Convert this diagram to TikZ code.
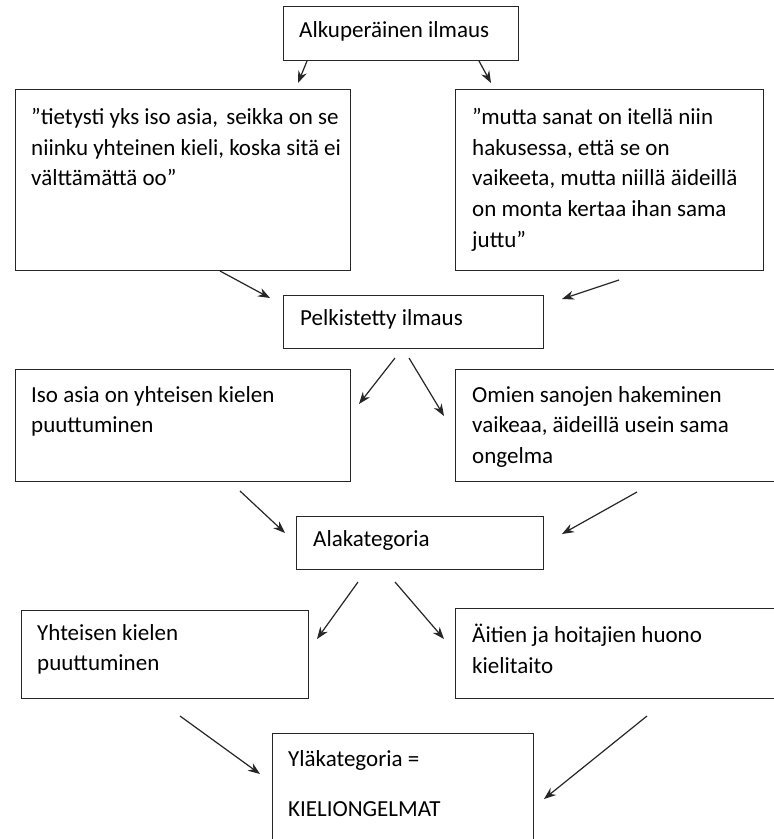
\documentclass[tikz,border=0pt]{standalone}
\usepackage{fontspec}
\setmainfont{Carlito}
\usetikzlibrary{arrows.meta}

\tikzset{
	box/.style={draw=black!85, line width=1.3pt, anchor=north west, inner sep=0pt},
	txt/.style={anchor=north west, inner sep=0pt, align=left, text=black,
		font=\fontsize{23}{30.7}\selectfont},
	arr/.style={-{Stealth[length=12pt,width=9pt]}, line width=1.2pt, draw=black!85}
}

\begin{document}
\begin{tikzpicture}[x=1pt,y=-1pt]
	\useasboundingbox[fill=white] (0,0) rectangle (774,839);
	
	% boxes: name / left / top / width / height
	\foreach \n/\x/\y/\w/\h in {orig/283/6/235/54, l1/15/89/335/181, r1/455/89/308/181,
		pel/283/295/260/53, l2/15/369/335/112, r2/455/369/340/112,
		ala/296/516/247/53, l3/21/610/287/88, r3/455/608/340/90, yla/272/733/261/130}
	{
		\node[box, minimum width=\w pt, minimum height=\h pt] (\n) at (\x,\y) {};
	}
	
	\node[txt] (origt) at ([shift={(16,15)}]orig.north west) {Alkuperäinen ilmaus};
	\node[txt] (l1t) at ([shift={(16,19)}]l1.north west)
		{”tietysti yks iso asia, \hspace{3pt}seikka on se\\niinku yhteinen kieli, koska sitä ei\\välttämättä oo”};
	\node[txt] (r1t) at ([shift={(17,19)}]r1.north west)
		{”mutta sanat on itellä niin\\hakusessa, että se on\\vaikeeta, mutta niillä äideillä\\on monta kertaa ihan sama\\juttu”};
	\node[txt] (pelt) at ([shift={(17,14)}]pel.north west) {Pelkistetty ilmaus};
	\node[txt] (l2t) at ([shift={(16,17)}]l2.north west) {Iso asia on yhteisen kielen\\puuttuminen};
	\node[txt] (r2t) at ([shift={(17,17)}]r2.north west)
		{Omien sanojen hakeminen\\vaikeaa, äideillä usein sama\\ongelma};
	\node[txt] (alat) at ([shift={(17,14)}]ala.north west) {Alakategoria};
	\node[txt] (l3t) at ([shift={(16,14)}]l3.north west) {Yhteisen kielen\\puuttuminen};
	\node[txt] (r3t) at ([shift={(17,16)}]r3.north west) {Äitien ja hoitajien huono\\kielitaito};
	\node[txt] (ylat) at ([shift={(16,17)}]yla.north west) {Yläkategoria =\\[20pt]KIELIONGELMAT};
	
	% arrow ends
	\foreach \n/\x/\y in {a1/307/61, b1/298/83, a2/479/61, b2/491/83,
		a3/220/271, b3/270/298, a4/619/280, b4/562/299,
		a5/395/358, b5/359/404, a6/409/358, b6/444/416,
		a7/240/491, b7/285/533, a8/637/492, b8/562/534,
		a9/358/582, b9/317/639, a10/395/582, b10/444/639,
		a11/180/716, b11/260/774, a12/647/716, b12/544/799}
	{
		\coordinate (\n) at (\x,\y);
	}
	\foreach \i in {1,...,12}
	{
		\draw[arr] (a\i) -- (b\i);
	}
\end{tikzpicture}
\end{document}
